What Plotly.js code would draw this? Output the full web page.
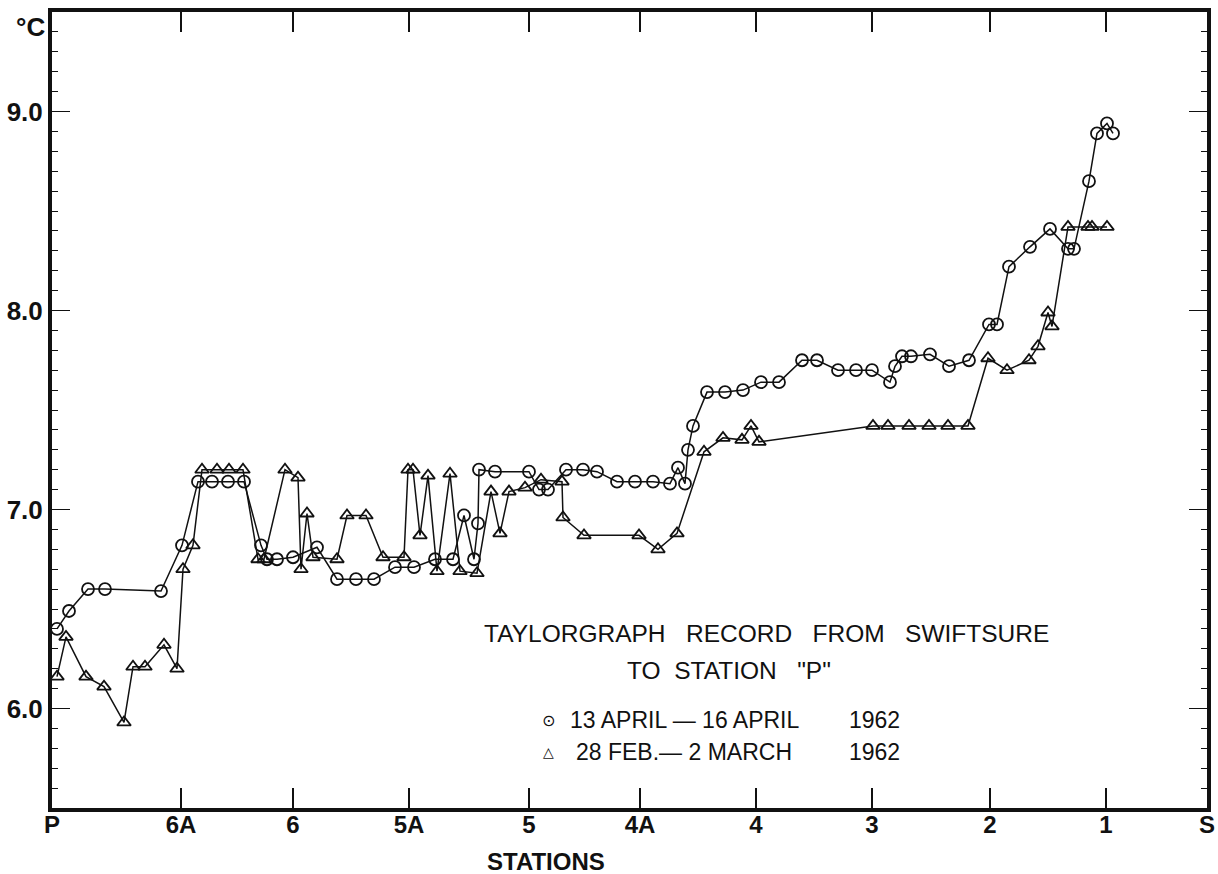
<!DOCTYPE html>
<html>
<head>
<meta charset="utf-8">
<script src="https://cdn.plot.ly/plotly-3.0.1.min.js"></script>
<style>
  html, body { margin: 0; padding: 0; background: #fff; }
  #chart { width: 1218px; height: 874px; }
</style>
</head>
<body>
<div id="chart"></div>
<script>
// Station tick positions (distance along track, arbitrary units) and labels
const stationNames = ['P', '6A', '6', '5A', '5', '4A', '4', '3', '2', '1', 'S'];
const stationPos = [0, 129, 241, 357, 477, 588, 704, 820, 938, 1054, 1155];

// Temperature tick labels (°C)
const tempTicks = [6, 7, 8, 9];
const tempTickText = ['6.0', '7.0', '8.0', '9.0'];

// 13 April – 16 April 1962 (circles)
const aprilX = [5,17,36,53,109,130,146,160,176,192,209,215,225,241,265,285,304,322,343,362,383,401,412,422,426,427,443,477,487,496,514,531,545,565,583,601,618,626,633,636,641,655,673,691,709,727,750,765,786,804,820,838,843,850,859,878,897,917,937,945,957,978,998,1016,1022,1037,1045,1055,1061];
const aprilT = [6.40,6.49,6.60,6.60,6.59,6.82,7.14,7.14,7.14,7.14,6.82,6.75,6.75,6.76,6.81,6.65,6.65,6.65,6.71,6.71,6.75,6.75,6.97,6.75,6.93,7.20,7.19,7.19,7.10,7.10,7.20,7.20,7.19,7.14,7.14,7.14,7.13,7.21,7.13,7.30,7.42,7.59,7.59,7.60,7.64,7.64,7.75,7.75,7.70,7.70,7.70,7.64,7.72,7.77,7.77,7.78,7.72,7.75,7.93,7.93,8.22,8.32,8.41,8.31,8.31,8.65,8.89,8.94,8.89];

// 28 Feb – 2 March 1962 (triangles)
const febX = [5,14,34,52,72,81,93,112,125,131,141,150,165,177,191,206,212,233,246,249,255,261,285,295,314,331,352,356,361,368,376,385,398,408,425,439,448,457,473,489,510,511,532,587,606,625,652,671,690,699,707,821,836,857,877,896,916,936,955,977,986,996,1000,1016,1036,1040,1055];
const febT = [6.16,6.36,6.16,6.11,5.93,6.21,6.21,6.32,6.20,6.70,6.82,7.20,7.20,7.20,7.20,6.75,6.75,7.20,7.16,6.70,6.98,6.76,6.75,6.97,6.97,6.76,6.76,7.20,7.20,6.87,7.17,6.69,7.18,6.69,6.68,7.09,6.88,7.09,7.11,7.15,7.14,6.96,6.87,6.87,6.80,6.88,7.29,7.36,7.35,7.42,7.34,7.42,7.42,7.42,7.42,7.42,7.42,7.76,7.70,7.75,7.82,7.99,7.92,8.42,8.42,8.42,8.42];

const INK = '#111';
const FONT = 'Liberation Sans, Arial, sans-serif';

const traces = [
  {
    x: febX, y: febT, type: 'scatter', mode: 'lines+markers',
    line: { color: INK, width: 1.5 },
    marker: { symbol: 'triangle-up-open', size: 12, color: INK, line: { color: INK, width: 1.8 } },
    showlegend: false, hoverinfo: 'x+y'
  },
  {
    x: aprilX, y: aprilT, type: 'scatter', mode: 'lines+markers',
    line: { color: INK, width: 1.5 },
    marker: { symbol: 'circle-open', size: 12, color: INK, line: { color: INK, width: 1.8 } },
    showlegend: false, hoverinfo: 'x+y'
  }
];

// plot area in pixels: left 52, right 1207, top 12, bottom 808
const L = 52, R = 1207, T = 12, B = 808;
const px = v => (v - L) / (R - L);
const py = v => (B - v) / (B - T);

const nb = n => '\u00A0'.repeat(n);

const annotations = [
  { text: '°C', x: px(47), y: py(27), xanchor: 'right', yanchor: 'middle', font: { size: 26, family: FONT, color: INK, weight: 'bold' } },
  { text: 'STATIONS', x: px(546), y: py(862), xanchor: 'center', yanchor: 'middle', font: { size: 24, family: FONT, color: INK, weight: 'bold' } },
  { text: 'TAYLORGRAPH' + nb(3) + 'RECORD' + nb(3) + 'FROM' + nb(3) + 'SWIFTSURE', x: px(482), y: py(633), xanchor: 'left', yanchor: 'middle', font: { size: 24.5, family: FONT, color: INK } },
  { text: 'TO' + nb(2) + 'STATION' + nb(3) + '"P"', x: px(625), y: py(670), xanchor: 'left', yanchor: 'middle', font: { size: 24.5, family: FONT, color: INK } },
  { text: '⊙', x: px(548), y: py(720), xanchor: 'center', yanchor: 'middle', font: { size: 16, family: 'DejaVu Sans', color: INK } },
  { text: '△', x: px(548), y: py(752), xanchor: 'center', yanchor: 'middle', font: { size: 14, family: 'DejaVu Sans', color: INK } },
  { text: '13 APRIL — 16 APRIL', x: px(568), y: py(720), xanchor: 'left', yanchor: 'middle', font: { size: 23, family: FONT, color: INK } },
  { text: '28 FEB.— 2 MARCH', x: px(574), y: py(752), xanchor: 'left', yanchor: 'middle', font: { size: 23, family: FONT, color: INK } },
  { text: '1962', x: px(847), y: py(720), xanchor: 'left', yanchor: 'middle', font: { size: 23, family: FONT, color: INK } },
  { text: '1962', x: px(847), y: py(752), xanchor: 'left', yanchor: 'middle', font: { size: 23, family: FONT, color: INK } }
].map(a => Object.assign({ xref: 'paper', yref: 'paper', showarrow: false }, a));

const layout = {
  width: 1218, height: 874,
  margin: { l: L, r: 1218 - R, t: T, b: 874 - B, pad: 0 },
  paper_bgcolor: '#fff', plot_bgcolor: '#fff',
  showlegend: false,
  font: { family: FONT, color: INK },
  xaxis: {
    range: [stationPos[0], stationPos[stationPos.length - 1]],
    tickmode: 'array', tickvals: stationPos, ticktext: stationNames,
    ticks: 'inside', ticklen: 20, tickwidth: 1.5, tickcolor: INK,
    showline: true, linewidth: 4, linecolor: INK, mirror: 'allticks',
    showgrid: false, zeroline: false,
    tickfont: { size: 24, family: FONT, color: INK, weight: 'bold' },
    ticklabelstandoff: -8
  },
  yaxis: {
    range: [5.5, 9.5],
    tickmode: 'array', tickvals: tempTicks, ticktext: tempTickText,
    ticks: 'inside', ticklen: 18, tickwidth: 1.5, tickcolor: INK,
    showline: true, linewidth: 4, linecolor: INK, mirror: 'allticks',
    showgrid: false, zeroline: false,
    tickfont: { size: 26, family: FONT, color: INK, weight: 'bold' },
    ticklabelstandoff: 0,
    minor: { tick0: 5.5, dtick: 0.1, ticks: 'inside', ticklen: 6, tickwidth: 1, tickcolor: INK, showgrid: false }
  },
  annotations: annotations
};

Plotly.newPlot('chart', traces, layout, { displayModeBar: false, staticPlot: true });
</script>
</body>
</html>
